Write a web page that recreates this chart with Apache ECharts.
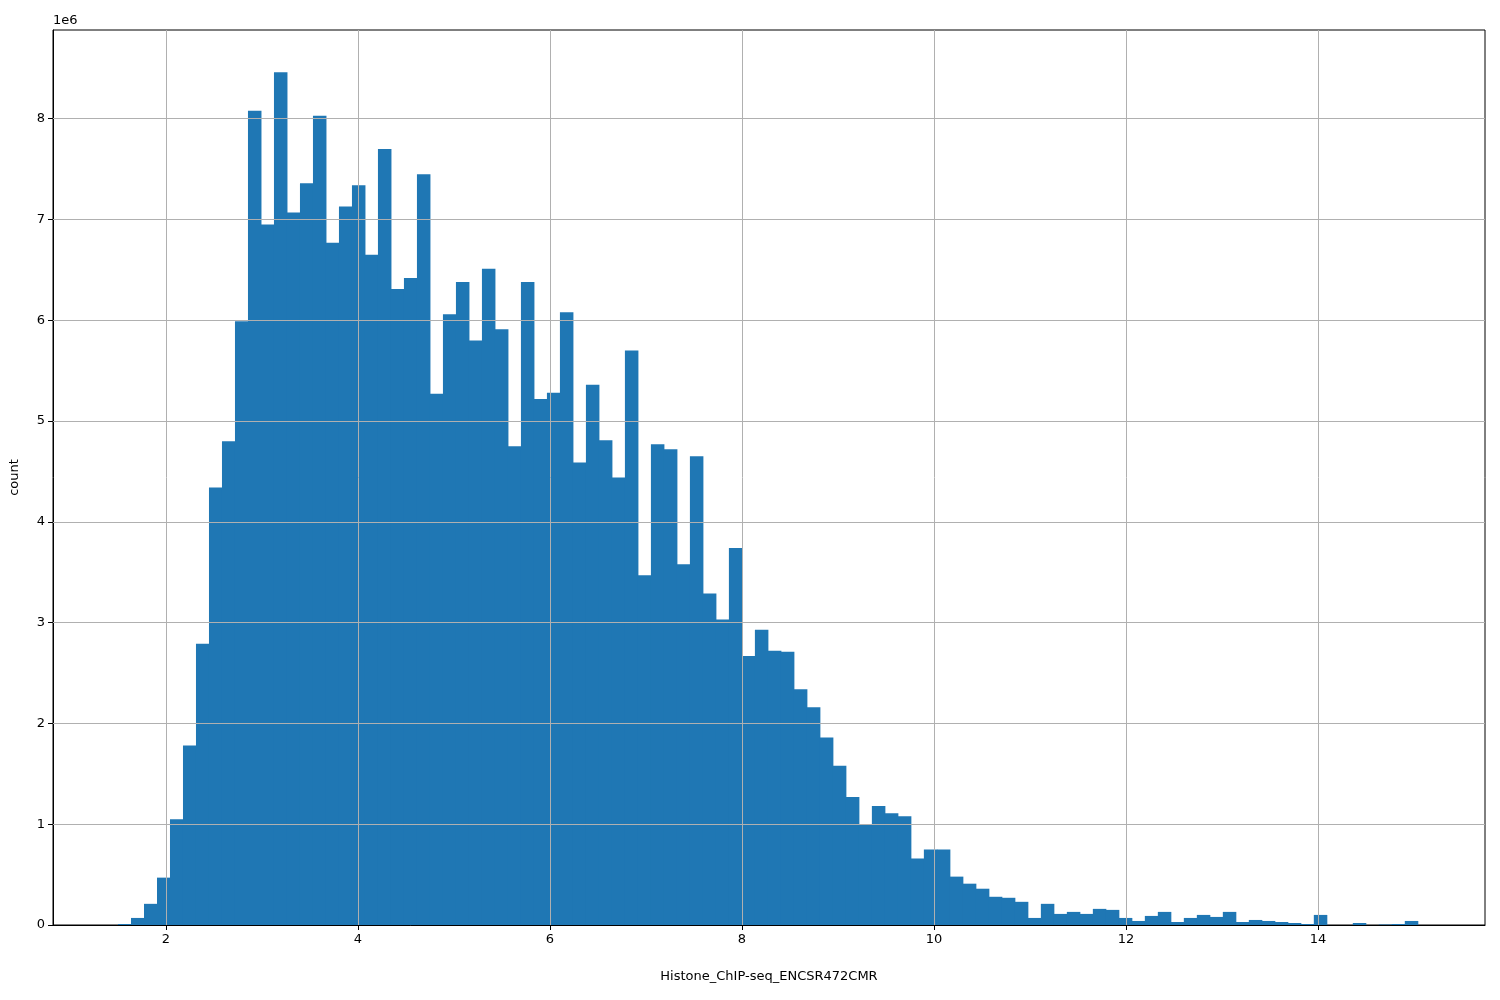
<!DOCTYPE html>
<html>
<head>
<meta charset="utf-8">
<script src="https://cdn.jsdelivr.net/npm/echarts@6/dist/echarts.min.js"></script>
<style>html,body{margin:0;padding:0;background:#fff}#chart{width:1500px;height:1000px}</style>
</head>
<body>
<div id="chart"></div>
<script>
// histogram bins: first edge, bin width, counts (millions)
var binStart = 1.5;
var binWidth = 0.1354;
var xTicks = [2, 4, 6, 8, 10, 12, 14];
var yTicks = [1, 2, 3, 4, 5, 6, 7, 8];
var counts = [
    0.01,0.07,0.21,0.47,1.05,1.78,2.79,4.34,4.80,5.99,
    8.08,6.95,8.46,7.07,7.36,8.03,6.77,7.13,7.34,6.65,
    7.70,6.31,6.42,7.45,5.27,6.06,6.38,5.80,6.51,5.91,
    4.75,6.38,5.22,5.28,6.08,4.59,5.36,4.81,4.44,5.70,
    3.47,4.77,4.72,3.58,4.65,3.29,3.03,3.74,2.67,2.93,
    2.72,2.71,2.34,2.16,1.86,1.58,1.27,1.00,1.18,1.11,
    1.08,0.66,0.75,0.75,0.48,0.41,0.36,0.28,0.27,0.23,
    0.07,0.21,0.11,0.13,0.11,0.16,0.15,0.07,0.04,0.09,
    0.13,0.03,0.07,0.10,0.08,0.13,0.03,0.05,0.04,0.03,
    0.02,0.01,0.10,0,0,0.02,0,0.005,0.01,0.04
];

var data = counts.map(function (c, i) {
    var a = binStart + i * binWidth;
    return [a, a + binWidth, c * 1e6];
});

// grid lines drawn above the bars, like matplotlib
var gridLines = xTicks.map(function (t) { return { xAxis: t }; })
    .concat(yTicks.map(function (t) { return { yAxis: t * 1e6 }; }));

var chart = echarts.init(document.getElementById('chart'));
chart.setOption({
    animation: false,
    textStyle: { fontFamily: 'DejaVu Sans' },
    grid: { left: 53, right: 15, top: 30, bottom: 75, show: true, borderColor: '#000', borderWidth: 1 },
    graphic: [{ type: 'text', left: 53, top: 14, style: { text: '1e6', font: '13px DejaVu Sans', fill: '#000' } }],
    xAxis: {
        type: 'value', min: 0.823, max: 15.74,
        name: 'Histone_ChIP-seq_ENCSR472CMR', nameLocation: 'middle', nameGap: 45,
        nameTextStyle: { color: '#000', fontSize: 13 },
        axisLine: { onZero: false, lineStyle: { color: '#000' } },
        axisTick: { show: true, length: 5, customValues: xTicks, lineStyle: { color: '#000' } },
        axisLabel: { color: '#000', fontSize: 13, customValues: xTicks },
        splitLine: { show: false }
    },
    yAxis: {
        type: 'value', min: 0, max: 8.88e6, interval: 1e6,
        name: 'count', nameLocation: 'middle', nameGap: 32,
        nameTextStyle: { color: '#000', fontSize: 13 },
        axisLine: { show: true, lineStyle: { color: '#000' } },
        axisTick: { show: true, length: 5, lineStyle: { color: '#000' } },
        axisLabel: { color: '#000', fontSize: 13, showMaxLabel: false,
            formatter: function (v) { return v / 1e6; } },
        splitLine: { show: false }
    },
    series: [{
        type: 'custom',
        data: data,
        encode: { x: [0, 1], y: 2 },
        z: 2,
        markLine: {
            silent: true, symbol: 'none', z: 5,
            label: { show: false },
            emphasis: { disabled: true },
            lineStyle: { color: '#b0b0b0', type: 'solid', width: 1 },
            data: gridLines
        },
        renderItem: function (params, api) {
            var p0 = api.coord([api.value(0), api.value(2)]);
            var p1 = api.coord([api.value(1), 0]);
            return {
                type: 'rect',
                shape: { x: p0[0], y: p0[1], width: p1[0] - p0[0] + 0.5, height: p1[1] - p0[1] },
                style: { fill: '#1f77b4' }
            };
        }
    }]
});
</script>
</body>
</html>
